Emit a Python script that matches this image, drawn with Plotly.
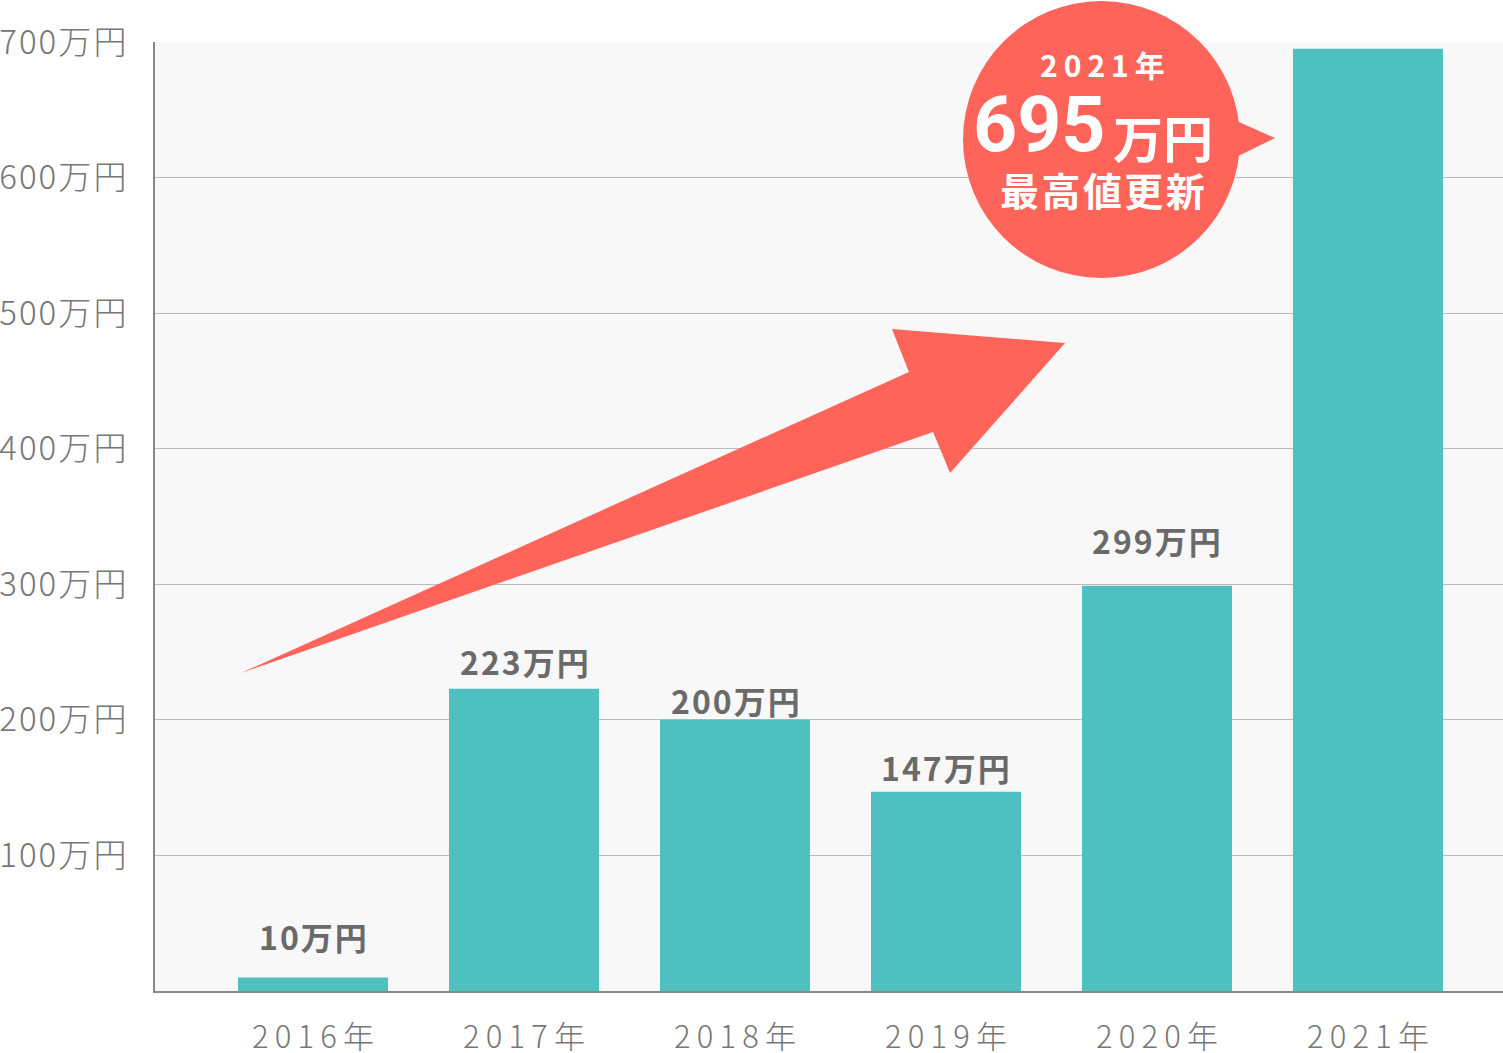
import plotly.graph_objects as go

# data
years = ["2016年", "2017年", "2018年", "2019年", "2020年", "2021年"]
income = [10, 223, 200, 147, 299, 695]  # 万円
y_ticks = [100, 200, 300, 400, 500, 600, 700]

TEAL = "#4DC0BF"
RED = "#FF645A"
GREY = "#777777"
JP = "Noto Sans CJK JP"

W, H = 1503, 1053
L, R, T, B = 155, 0, 42, 62


def px(x):
    """pixel x -> paper x"""
    return (x - L) / (W - L - R)


def py(y):
    """pixel y -> paper y"""
    return (H - B - y) / (H - B - T)


def spaced(s, sep="\u2009"):
    return sep.join(s)


def poly(points):
    return "M " + " L ".join(f"{px(a):.4f},{py(b):.4f}" for a, b in points) + " Z"


fig = go.Figure()

fig.add_trace(go.Bar(
    x=years,
    y=income,
    marker=dict(color=TEAL, line=dict(width=0)),
    hoverinfo="x+y",
    showlegend=False,
))

# value labels above the bars (2021 is shown in the bubble instead)
label_shift = [41, 28, 20, 25, 46]
for yr, v, s in zip(years[:-1], income[:-1], label_shift):
    fig.add_annotation(
        x=yr, y=v, text=spaced(f"{v}万円", "\u200a"), showarrow=False,
        xanchor="center", yanchor="middle", yshift=s,
        font=dict(family=JP, size=32, color="#6A6A6A", weight="bold"),
    )

# big trend arrow
arrow = [(241, 673), (909, 372), (892, 329), (1065, 343),
         (950, 473), (933, 432)]
fig.add_shape(type="path", path=poly(arrow), xref="paper", yref="paper",
              fillcolor=RED, line=dict(width=0), layer="above")

# speech bubble
cx, cy, r = 1101.5, 139.5, 138.5
fig.add_shape(type="circle", xref="paper", yref="paper",
              x0=px(cx - r), x1=px(cx + r), y0=py(cy + r), y1=py(cy - r),
              fillcolor=RED, line=dict(width=0), layer="above")
fig.add_shape(type="path", xref="paper", yref="paper",
              path=poly([(1230, 118), (1275, 138), (1230, 160)]),
              fillcolor=RED, line=dict(width=0), layer="above")

fig.add_annotation(x=px(1102), y=py(64), xref="paper", yref="paper",
                   text=spaced("2021年"), showarrow=False,
                   xanchor="center", yanchor="middle",
                   font=dict(family=JP, size=30, color="white", weight="bold"))
fig.add_annotation(x=px(1108), y=py(125), xref="paper", yref="paper",
                   text="695", showarrow=False, xanchor="right", yanchor="middle",
                   font=dict(family="Roboto", size=77, color="white", weight="bold"))
fig.add_annotation(x=px(1111), y=py(136), xref="paper", yref="paper",
                   text="万円", showarrow=False, xanchor="left", yanchor="middle",
                   font=dict(family=JP, size=50, color="white", weight="bold"))
fig.add_annotation(x=px(1102), y=py(189), xref="paper", yref="paper",
                   text=spaced("最高値更新", "\u200a"), showarrow=False,
                   xanchor="center", yanchor="middle",
                   font=dict(family=JP, size=39, color="white", weight="bold"))

fig.update_xaxes(
    type="category",
    range=[-0.749, 5.64],
    tickvals=years,
    ticktext=[spaced(y) for y in years],
    tickfont=dict(family=JP, size=31, color=GREY, weight=300),
    ticklabelstandoff=18,
    automargin=False,
    showgrid=False,
    showline=True, linecolor="#888888", linewidth=2,
    ticks="",
    fixedrange=True,
)
fig.update_yaxes(
    range=[0, 700],
    tickvals=y_ticks,
    ticktext=[spaced(f"{v}万円", "\u200a") for v in y_ticks],
    tickfont=dict(family=JP, size=33, color=GREY, weight=300),
    ticklabelstandoff=20,
    automargin=False,
    showgrid=True, gridcolor="#BBBBBB", gridwidth=1,
    showline=True, linecolor="#888888", linewidth=2,
    zeroline=False,
    ticks="",
    fixedrange=True,
)

fig.update_layout(
    width=W, height=H,
    margin=dict(l=L, r=R, t=T, b=B, pad=0),
    paper_bgcolor="white",
    plot_bgcolor="#F8F8F8",
    bargap=0.289,
    font=dict(family=JP),
)

# the page's default body margin would push the figure off by 8px
fig.write_html("out.html", config={"displayModeBar": False},
               post_script="document.body.style.margin='0';")
